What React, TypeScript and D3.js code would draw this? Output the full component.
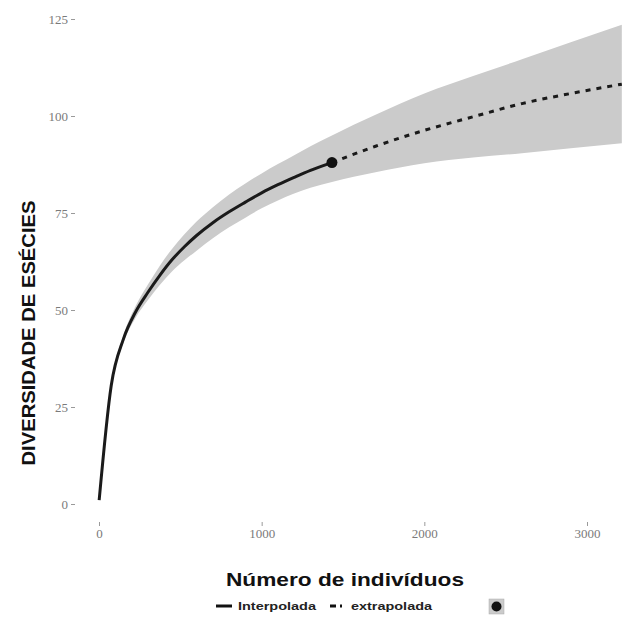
import { useRef, useEffect } from 'react'
import * as d3 from 'd3'

// interpolated (rarefaction) part
const interpN = [1, 75, 150, 225, 300, 375, 450, 525, 600, 700, 800, 900, 1000, 1100, 1200, 1300, 1432]
const interpD = [1, 30.5, 42.5, 49.5, 54.5, 59, 63, 66.3, 69.2, 72.5, 75.3, 77.8, 80.2, 82.3, 84.2, 86, 88]
const interpLo = [1, 30, 41.5, 48, 52.5, 56.5, 60, 62.8, 65.3, 68.5, 71.3, 73.8, 76.2, 78.2, 80, 81.5, 83]
const interpHi = [1, 31.2, 43.5, 51, 56.5, 61.5, 65.8, 69.5, 72.8, 76.5, 79.8, 82.6, 85.2, 87.6, 89.9, 92.2, 95]

// extrapolated part
const extrapN = [1432, 1700, 2000, 2300, 2600, 2900, 3214]
const extrapD = [88, 92.2, 96.3, 99.8, 103.2, 105.8, 108.2]
const extrapLo = [83, 85.5, 87.8, 89.3, 90.4, 91.7, 93]
const extrapHi = [95, 100.3, 105.8, 110.3, 114.6, 119, 123.5]

const refN = 1432
const refD = 88

const xTicks = [0, 1000, 2000, 3000]
const yTicks = [0, 25, 50, 75, 100, 125]

const xTitle = 'Número de indivíduos'
const yTitle = 'DIVERSIDADE DE ESÉCIES'
const legendLabels = ['Interpolada', 'extrapolada']

function App() {
  const ref = useRef<SVGSVGElement>(null)

  useEffect(() => {
    const svg = d3.select(ref.current)
    svg.selectAll('*').remove()

    const x = d3.scaleLinear().domain([0, 3000]).range([99, 587])
    const y = d3.scaleLinear().domain([0, 125]).range([504, 19])

    const interp = interpN.map((n, i) => ({ n, d: interpD[i], lo: interpLo[i], hi: interpHi[i] }))
    const extrap = extrapN.map((n, i) => ({ n, d: extrapD[i], lo: extrapLo[i], hi: extrapHi[i] }))
    const all = interp.concat(extrap.slice(1))

    const area = d3.area<any>()
      .x(d => x(d.n))
      .y0(d => y(d.lo))
      .y1(d => y(d.hi))
      .curve(d3.curveMonotoneX)
    const line = d3.line<any>()
      .x(d => x(d.n))
      .y(d => y(d.d))
      .curve(d3.curveMonotoneX)

    svg.append('path').attr('d', area(all)).attr('fill', '#cbcbcb')
    svg.append('path').attr('d', line(interp))
      .attr('fill', 'none').attr('stroke', '#1a1a1a').attr('stroke-width', 3)
    svg.append('path').attr('d', line(extrap))
      .attr('fill', 'none').attr('stroke', '#1a1a1a').attr('stroke-width', 3)
      .attr('stroke-dasharray', '5,6')
    svg.append('circle').attr('cx', x(refN)).attr('cy', y(refD)).attr('r', 5.5).attr('fill', '#111')

    // axes
    const yAxis = svg.append('g').attr('transform', 'translate(75,0)')
      .call(d3.axisLeft(y).tickValues(yTicks).tickSize(4).tickPadding(3))
    const xAxis = svg.append('g').attr('transform', 'translate(0,522)')
      .call(d3.axisBottom(x).tickValues(xTicks).tickSize(4).tickPadding(3).tickFormat(d3.format('d')))
    for (const ax of [xAxis, yAxis]) {
      ax.select('.domain').remove()
      ax.selectAll('line').attr('stroke', '#9a9a9a')
      ax.selectAll('text').attr('fill', '#7a7a7a')
        .style('font', '13px "Liberation Serif", serif')
    }

    // titles
    svg.append('text')
      .attr('transform', 'translate(35,333) rotate(-90)')
      .attr('text-anchor', 'middle')
      .attr('textLength', 265).attr('lengthAdjust', 'spacingAndGlyphs')
      .style('font', 'bold 18px "Liberation Sans", Arial, sans-serif')
      .attr('fill', '#111')
      .text(yTitle)
    svg.append('text')
      .attr('x', 345).attr('y', 586)
      .attr('text-anchor', 'middle')
      .attr('textLength', 238).attr('lengthAdjust', 'spacingAndGlyphs')
      .style('font', 'bold 19px "Liberation Sans", Arial, sans-serif')
      .attr('fill', '#111')
      .text(xTitle)

    // legend
    const ly = 606
    svg.append('line').attr('x1', 216).attr('x2', 232).attr('y1', ly).attr('y2', ly)
      .attr('stroke', '#111').attr('stroke-width', 3)
    svg.append('line').attr('x1', 330).attr('x2', 346).attr('y1', ly).attr('y2', ly)
      .attr('stroke', '#111').attr('stroke-width', 3).attr('stroke-dasharray', '6,4,2,4')
    const legX = [238, 351]
    const legW = [78, 81]
    legendLabels.forEach((t, i) => {
      svg.append('text').attr('x', legX[i]).attr('y', ly + 4)
        .attr('textLength', legW[i]).attr('lengthAdjust', 'spacingAndGlyphs')
        .style('font', 'bold 11px "Liberation Sans", Arial, sans-serif')
        .attr('fill', '#222')
        .text(t)
    })
    svg.append('rect').attr('x', 489).attr('y', 599).attr('width', 15).attr('height', 15)
      .attr('fill', '#cbcbcb').attr('stroke', '#aaa').attr('stroke-width', 0.5)
    svg.append('circle').attr('cx', 496.5).attr('cy', 606.5).attr('r', 5).attr('fill', '#111')
  }, [])

  return (
    <div style={{ margin: -8 }}>
      <svg ref={ref} width={641} height={623} style={{ display: 'block', background: '#fff' }} />
    </div>
  )
}

export default App
